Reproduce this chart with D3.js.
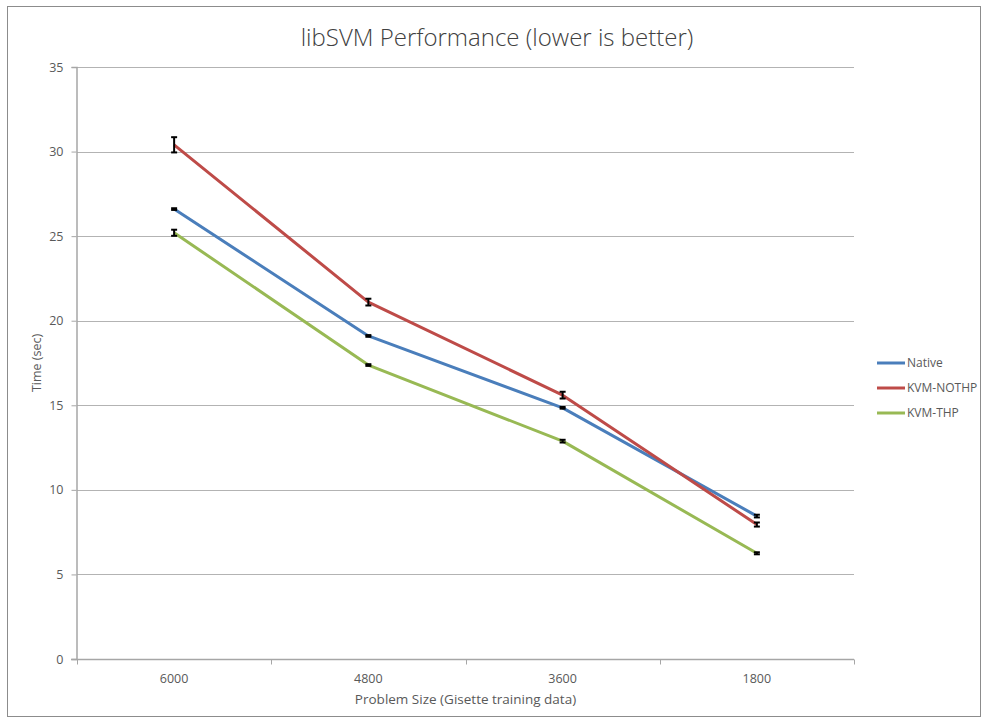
<!DOCTYPE html>
<html><head><meta charset="utf-8">
<script src="https://cdn.jsdelivr.net/npm/d3@7"></script>
<style>body{margin:0;background:#fff}svg{display:block}</style>
</head><body>
<script>
const categories = ["6000", "4800", "3600", "1800"];
const seriesNames = ["Native", "KVM-NOTHP", "KVM-THP"];
const nativeValues = [26.6, 19.1, 14.85, 8.45];
const nothpValues = [30.4, 21.1, 15.6, 7.95];
const thpValues = [25.2, 17.38, 12.88, 6.25];
const nativeErr = [0.05, 0.05, 0.05, 0.08];
const nothpErr = [0.45, 0.2, 0.2, 0.12];
const thpErr = [0.18, 0.05, 0.08, 0.06];
const yTicks = [0, 5, 10, 15, 20, 25, 30, 35];
const colors = ["#4a7ebb", "#be4b48", "#98b954"];

const W = 988, H = 723;
const m = {left: 77, right: 854, top: 67, bottom: 659};
const svg = d3.select("body").append("svg").attr("width", W).attr("height", H);
const font = "'Open Sans', 'Liberation Sans', sans-serif";

svg.append("rect").attr("x", 7.5).attr("y", 6.5).attr("width", 973).attr("height", 710)
  .attr("fill", "#fff").attr("stroke", "#8c8c8c").attr("stroke-width", 1);

const x = d3.scaleBand().domain(categories).range([m.left, m.right]);
const y = d3.scaleLinear().domain([0, 35]).range([m.bottom, m.top]);

// gridlines
svg.append("g").selectAll("line").data(yTicks.filter(d => d > 0)).join("line")
  .attr("x1", m.left).attr("x2", m.right)
  .attr("y1", d => Math.round(y(d)) + 0.5).attr("y2", d => Math.round(y(d)) + 0.5)
  .attr("stroke", "#b3b3b3").attr("stroke-width", 1);

// y axis
const yAxis = d3.axisLeft(y).tickValues(yTicks).tickSize(5).tickPadding(8).tickFormat(d3.format("d"));
const gy = svg.append("g").attr("transform", `translate(${m.left - 0.5},0)`).call(yAxis);
gy.select(".domain").attr("stroke", "#a6a6a6").attr("stroke-width", 1.5);
gy.selectAll(".tick line").attr("stroke", "#a6a6a6");
gy.selectAll(".tick text").attr("fill", "#595959").style("font-family", font).style("font-size", "12.5px");

// x axis
const gx = svg.append("g").attr("transform", `translate(0,${m.bottom + 0.5})`);
gx.append("line").attr("x1", m.left - 6).attr("x2", m.right).attr("y1", 0).attr("y2", 0)
  .attr("stroke", "#a6a6a6").attr("stroke-width", 1.5);
const boundaries = categories.map(c => x(c)).concat([m.right]);
gx.selectAll("line.tk").data(boundaries).join("line").attr("class", "tk")
  .attr("x1", d => Math.round(d) + 0.5).attr("x2", d => Math.round(d) + 0.5)
  .attr("y1", 0).attr("y2", 5).attr("stroke", "#a6a6a6");
gx.selectAll("text").data(categories).join("text")
  .attr("x", d => x(d) + x.bandwidth() / 2).attr("y", 23)
  .attr("text-anchor", "middle").attr("fill", "#595959")
  .style("font-family", font).style("font-size", "12.5px").text(d => d);

// axis titles
svg.append("text").attr("x", (m.left + m.right) / 2).attr("y", 704).attr("text-anchor", "middle")
  .attr("fill", "#595959").style("font-family", font).style("font-size", "13.5px")
  .text("Problem Size (Gisette training data)");
svg.append("text").attr("transform", `translate(41,${(m.top + m.bottom) / 2}) rotate(-90)`)
  .attr("text-anchor", "middle").attr("fill", "#595959").style("font-family", font).style("font-size", "12.5px")
  .text("Time (sec)");

// title
svg.append("text").attr("x", 497).attr("y", 46).attr("text-anchor", "middle")
  .attr("fill", "#404040").style("font-family", font).style("font-weight", 300).style("font-size", "24px")
  .text("libSVM Performance (lower is better)");

const allValues = [nativeValues, nothpValues, thpValues];
const allErr = [nativeErr, nothpErr, thpErr];
const cx = c => x(c) + x.bandwidth() / 2;
const line = d3.line().x(d => cx(d.c)).y(d => y(d.v));

allValues.forEach((vals, i) => {
  const pts = categories.map((c, j) => ({c, v: vals[j], e: allErr[i][j]}));
  svg.append("path").datum(pts).attr("d", line).attr("fill", "none")
    .attr("stroke", colors[i]).attr("stroke-width", 3).attr("stroke-linejoin", "round");
});
allValues.forEach((vals, i) => {
  const pts = categories.map((c, j) => ({c, v: vals[j], e: allErr[i][j]}));
  const g = svg.append("g").attr("stroke", "#000").attr("stroke-width", 2);
  pts.forEach(p => {
    const xx = cx(p.c), y1 = y(p.v - p.e), y2 = y(p.v + p.e);
    g.append("line").attr("x1", xx).attr("x2", xx).attr("y1", y1).attr("y2", y2);
    g.append("line").attr("x1", xx - 3).attr("x2", xx + 3).attr("y1", y1).attr("y2", y1);
    g.append("line").attr("x1", xx - 3).attr("x2", xx + 3).attr("y1", y2).attr("y2", y2);
  });
});

// legend
const lg = svg.append("g");
seriesNames.forEach((n, i) => {
  const yy = 363 + i * 25;
  lg.append("line").attr("x1", 877).attr("x2", 905).attr("y1", yy).attr("y2", yy)
    .attr("stroke", colors[i]).attr("stroke-width", 3);
  lg.append("text").attr("x", 907).attr("y", yy + 4).attr("fill", "#595959")
    .style("font-family", font).style("font-size", "12px").text(n);
});
</script>
</body></html>
